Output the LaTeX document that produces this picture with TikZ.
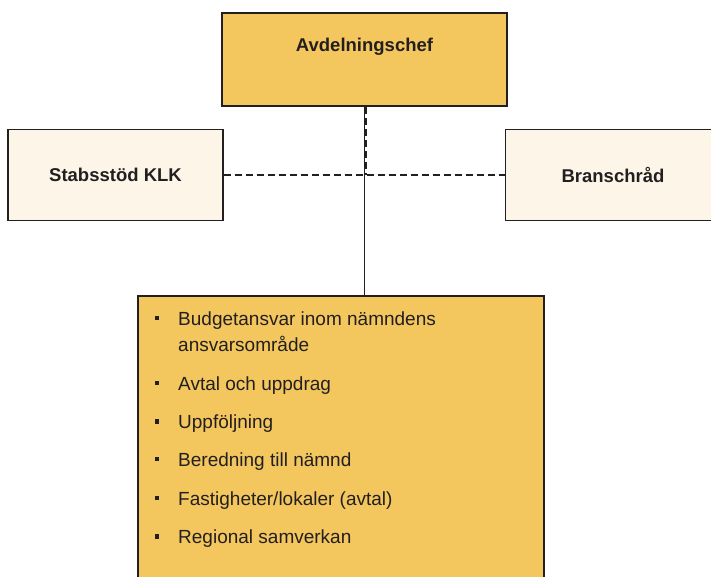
\documentclass[tikz,border=0pt]{standalone}
\usepackage{fontspec}
\setmainfont{Liberation Sans}
\usepackage{tikz}
\usetikzlibrary{calc}

\definecolor{gold}{RGB}{243,199,94}
\definecolor{cream}{RGB}{253,246,232}
\definecolor{ink}{RGB}{35,31,32}

\begin{document}
\begin{tikzpicture}[
        x=1pt, y=-1pt,
        box/.style={draw=ink, line width=1.4pt, inner sep=0pt},
        chefbox/.style={box, fill=gold, minimum width=285pt, minimum height=93pt},
        sidebox/.style={box, fill=cream, minimum width=215pt, minimum height=91pt,
            font=\fontsize{18.5}{22}\selectfont\bfseries, text=ink},
        listbox/.style={box, fill=gold, minimum width=406pt, minimum height=304pt},
        item/.style={anchor=base west, inner sep=0pt, text=ink,
            font=\fontsize{19}{26}\selectfont},
        orgline/.style={draw=ink, line width=1.5pt},
        linkline/.style={draw=ink, line width=1.2pt, dash pattern=on 7pt off 4pt}
    ]

        % Canvas of the reference
        \useasboundingbox (0,0) rectangle (711,577);
        \fill[white] (0,0) rectangle (711,577);
        \clip (0,0) rectangle (711,577);

        % Boxes
        \node[chefbox, label={[yshift=12.5pt, text=ink,
            font=\fontsize{18.5}{22}\selectfont\bfseries]center:Avdelningschef}]
            (chef) at (364.5,59.5) {};
        \node[sidebox] (stab) at (115.5,175) {Stabsstöd KLK};
        \node[sidebox] (bransch) at (613,175) {Branschråd};
        \node[listbox] (tasks) at (341,448) {};

        % Connectors
        \draw[orgline] (chef.south) -- (chef.south |- tasks.north);
        \draw[linkline] (stab.east) -- (bransch.west);
        \draw[linkline] ([xshift=1.5pt]chef.south) -- ([xshift=1.5pt]chef.south |- stab.east);

        % Task list
        \foreach \y/\txt [count=\i] in {325/{Budgetansvar inom nämndens},
                390/{Avtal och uppdrag}, 428.5/{Uppföljning}, 466/{Beredning till nämnd},
                505/{Fastigheter/lokaler (avtal)}, 543.5/{Regional samverkan}} {
            \fill[ink] (154.5,\y-9.5) rectangle (159,\y-5);
            \node[item] (item\i) at (178,\y) {\txt};
        }
        \node[item] (item1b) at (178,351) {ansvarsområde};

    \end{tikzpicture}
\end{document}
